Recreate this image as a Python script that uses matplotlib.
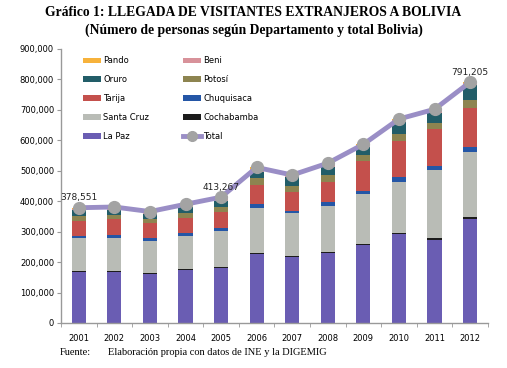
import matplotlib
matplotlib.use("Agg")
import matplotlib.pyplot as plt
import numpy as np
from matplotlib.lines import Line2D
from matplotlib.patches import Patch

years = ["2001", "2002", "2003", "2004", "2005", "2006", "2007", "2008", "2009", "2010", "2011", "2012"]
la_paz     = [168000, 169000, 161000, 173000, 181000, 227000, 216000, 231000, 256000, 291000, 273000, 341000]
cochabamba = [3000, 2000, 2000, 3000, 3000, 3000, 4000, 3000, 3000, 6000, 5000, 8000]
santa_cruz = [107000, 109000, 107000, 110000, 118000, 147000, 140000, 150000, 164000, 167000, 225000, 214000]
chuquisaca = [9000, 8000, 8000, 9000, 10000, 13000, 9000, 14000, 12000, 15000, 13000, 14000]
tarija     = [49000, 53000, 49000, 51000, 54000, 63000, 62000, 66000, 97000, 120000, 120000, 130000]
potosi     = [15000, 14000, 14000, 14000, 16000, 22000, 20000, 22000, 20000, 22000, 22000, 26000]
oruro      = [20000, 16000, 17000, 20000, 19000, 22000, 28000, 27000, 25000, 40000, 33000, 49000]
beni       = [5000, 7000, 6000, 7000, 9000, 10000, 5000, 9000, 7000, 6000, 8000, 6000]
pando      = [2500, 3000, 2000, 3000, 3000, 4000, 2000, 3000, 3000, 3000, 3000, 3000]
total      = [378551, 381000, 366000, 390000, 413267, 511000, 486000, 525000, 587000, 670000, 702000, 791205]
label_years = {"2001": "378,551", "2005": "413,267", "2012": "791,205"}

series = [
    ("La Paz", la_paz, "#6a5db3"),
    ("Cochabamba", cochabamba, "#1c1c1c"),
    ("Santa Cruz", santa_cruz, "#b9bcb6"),
    ("Chuquisaca", chuquisaca, "#2456a6"),
    ("Tarija", tarija, "#c4504c"),
    ("Potosí", potosi, "#8d8450"),
    ("Oruro", oruro, "#225d68"),
    ("Beni", beni, "#d8929a"),
    ("Pando", pando, "#f7b23b"),
]

fig = plt.figure(figsize=(5.07, 3.68), dpi=100)
ax = fig.add_axes([0.1203, 0.1223, 0.842, 0.7446])

x = np.arange(len(years))
bottom = np.zeros(len(years))
handles = {}
for name, vals, col in series:
    ax.bar(x, vals, bottom=bottom, width=0.40, color=col, linewidth=0, zorder=2)
    handles[name] = Patch(facecolor=col, edgecolor="none")
    bottom += np.array(vals)

line_col = "#9a8ec6"
ax.plot(x, total, color=line_col, linewidth=3.5, zorder=3, solid_capstyle="round")
ax.plot(x, total, linestyle="none", marker="o", markersize=8.5,
        markerfacecolor="#a3a3a3", markeredgecolor="#a3a3a3", zorder=4)
handles["Total"] = Line2D([0], [0], color=line_col, lw=3.5, marker="o", markersize=7,
                          markerfacecolor="#a3a3a3", markeredgecolor="#a3a3a3")

for i, y in enumerate(years):
    if y in label_years:
        ax.text(x[i], total[i] + 18000, label_years[y], ha="center", va="bottom",
                fontsize=6.5, family="DejaVu Sans", color="#222222")

ax.set_xlim(-0.5, len(years) - 0.5)
ax.set_ylim(0, 900000)
ax.set_yticks(np.arange(0, 900001, 100000))
ax.set_yticklabels([f"{v:,}" for v in range(0, 900001, 100000)], fontsize=6)
ax.set_xticks(x)
ax.set_xticklabels(years, fontsize=6)
ax.set_xticks(np.arange(-0.5, len(years), 1), minor=True)
ax.tick_params(axis="x", which="major", length=0, pad=8)
ax.tick_params(axis="x", which="minor", length=3, color="#999999", direction="out")
ax.tick_params(axis="y", length=3, color="#999999", direction="out", pad=2)
for s in ["top", "right"]:
    ax.spines[s].set_visible(False)
for s in ["left", "bottom"]:
    ax.spines[s].set_color("#999999")
    ax.spines[s].set_linewidth(1.0)

order = ["Pando", "Oruro", "Tarija", "Santa Cruz", "La Paz",
         "Beni", "Potosí", "Chuquisaca", "Cochabamba", "Total"]
leg = ax.legend([handles[n] for n in order], order, ncol=2, loc="upper left",
                bbox_to_anchor=(0.034, 1.0), frameon=False, fontsize=6,
                handlelength=2.2, handleheight=0.7, labelspacing=1.18,
                columnspacing=4.1, handletextpad=0.2)

fig.text(0.5, 0.965, "Gráfico 1: LLEGADA DE VISITANTES EXTRANJEROS A BOLIVIA",
         ha="center", va="center", fontsize=9.8, fontweight="bold", family="Liberation Serif")
fig.text(0.5, 0.918, "(Número de personas según Departamento y total Bolivia)",
         ha="center", va="center", fontsize=9.8, fontweight="bold", family="Liberation Serif")
fig.text(0.118, 0.043, "Fuente:", ha="left", va="center", fontsize=7.5, family="Liberation Serif")
fig.text(0.213, 0.043, "Elaboración propia con datos de INE y la DIGEMIG", ha="left", va="center",
         fontsize=7.5, family="Liberation Serif")

fig.savefig("out.png", dpi=100)
